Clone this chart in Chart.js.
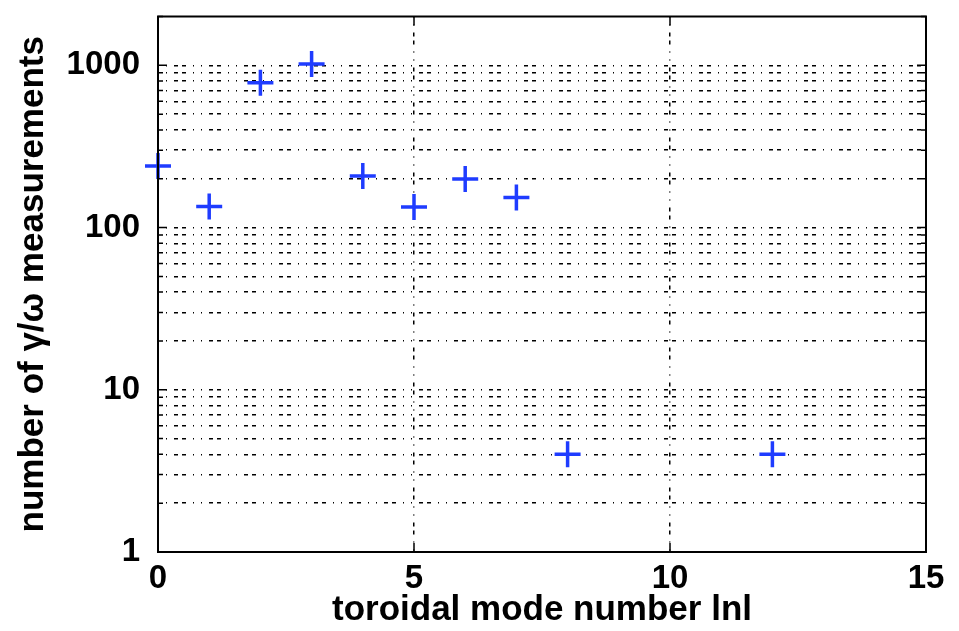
<!DOCTYPE html>
<html>
<head>
<meta charset="utf-8">
<script src="https://cdn.jsdelivr.net/npm/chart.js@4/dist/chart.umd.min.js"></script>
<style>
html,body{margin:0;padding:0;background:#fff;}
#wrap{width:959px;height:631px;position:relative;}
</style>
</head>
<body>
<div id="wrap"><canvas id="c" width="959" height="631"></canvas></div>
<script>
const modeNumbers = [0, 1, 2, 3, 4, 5, 6, 7, 8, 12];
const measurementCounts = [240, 135, 780, 1020, 208, 134, 199, 153, 4, 4];
const xTickValues = [0, 5, 10, 15];
const yMajorTicks = [1, 10, 100, 1000];
const yAllTicks = [1,2,3,4,5,6,7,8,9,10,20,30,40,50,60,70,80,90,100,200,300,400,500,600,700,800,900,1000,2000];
const xTitle = 'toroidal mode number lnl';
const yTitle = 'number of \u03b3/\u03c9 measurements';

const points = modeNumbers.map((x, i) => ({x: x, y: measurementCounts[i]}));
const FONT = "'Liberation Sans', Arial, sans-serif";
const zeroPad = () => ({left: 0, top: 0, right: 0, bottom: 0});

const boxPlugin = {
  id: 'box',
  afterDatasetsDraw(chart) {
    const {ctx, chartArea: a} = chart;
    const ys = chart.scales.y;
    ctx.save();
    ctx.strokeStyle = '#000';
    ctx.lineWidth = 1.5;
    ctx.setLineDash([]);
    yAllTicks.forEach(v => {
      const py = ys.getPixelForValue(v);
      const len = yMajorTicks.includes(v) ? 9 : 5;
      ctx.beginPath();
      ctx.moveTo(a.left, py); ctx.lineTo(a.left + len, py);
      ctx.moveTo(a.right, py); ctx.lineTo(a.right - len, py);
      ctx.stroke();
    });
    const xs = chart.scales.x;
    xTickValues.forEach(v => {
      const px = xs.getPixelForValue(v);
      ctx.beginPath();
      ctx.moveTo(px, a.bottom); ctx.lineTo(px, a.bottom - 9);
      ctx.moveTo(px, a.top); ctx.lineTo(px, a.top + 9);
      ctx.stroke();
    });
    ctx.lineWidth = 2;
    ctx.strokeRect(a.left, a.top, a.right - a.left, a.bottom - a.top);
    ctx.restore();
  }
};

new Chart(document.getElementById('c'), {
  type: 'scatter',
  data: {
    datasets: [{
      data: points,
      pointStyle: 'cross',
      pointRadius: 13,
      pointHoverRadius: 13,
      borderColor: '#1f3cff',
      backgroundColor: '#1f3cff',
      borderWidth: 3.5,
      clip: false
    }]
  },
  options: {
    responsive: false,
    animation: false,
    devicePixelRatio: 1,
    layout: {padding: {top: 12, right: 33, left: 0, bottom: 0}},
    plugins: {legend: {display: false}, tooltip: {enabled: false}},
    scales: {
      x: {
        type: 'linear',
        min: 0, max: 15,
        afterBuildTicks(scale) { scale.ticks = xTickValues.map(v => ({value: v})); },
        afterFit(scale) { scale.height = 79; scale.paddingLeft = 0; scale.paddingRight = 0; scale.getPadding = zeroPad; },
        ticks: {
          color: '#000',
          padding: 7,
          font: {family: FONT, size: 33, weight: 'bold'},
          maxRotation: 0
        },
        grid: {
          drawTicks: false,
          color: (ctx) => (ctx.tick && (ctx.tick.value === 5 || ctx.tick.value === 10)) ? '#000' : 'rgba(0,0,0,0)',
          lineWidth: 1.5
        },
        border: {display: false, dash: [1, 7, 1, 7, 4, 4, 4, 7]},
        title: {
          display: true,
          text: xTitle,
          color: '#000',
          font: {family: FONT, size: 35, weight: 'bold'},
          padding: {top: 0, bottom: 0}
        }
      },
      y: {
        type: 'logarithmic',
        min: 1, max: 2000,
        afterBuildTicks(scale) { scale.ticks = yAllTicks.map(v => ({value: v, major: yMajorTicks.includes(v)})); },
        afterFit(scale) { scale.width = 158; scale.paddingTop = 0; scale.paddingBottom = 0; scale.getPadding = zeroPad; },
        ticks: {
          color: '#000',
          padding: 18,
          autoSkip: false,
          font: {family: FONT, size: 33, weight: 'bold'},
          callback: (v) => yMajorTicks.includes(v) ? String(v) : ''
        },
        grid: {
          drawTicks: false,
          color: (ctx) => (ctx.tick && ctx.tick.value > 1 && ctx.tick.value < 2000) ? '#000' : 'rgba(0,0,0,0)',
          lineWidth: 1.5
        },
        border: {display: false, dash: [1, 7, 1, 7, 4, 4, 4, 7]},
        title: {
          display: true,
          text: yTitle,
          color: '#000',
          font: {family: FONT, size: 35, weight: 'bold'},
          padding: {top: 12, bottom: 0}
        }
      }
    }
  },
  plugins: [boxPlugin]
});
</script>
</body>
</html>
